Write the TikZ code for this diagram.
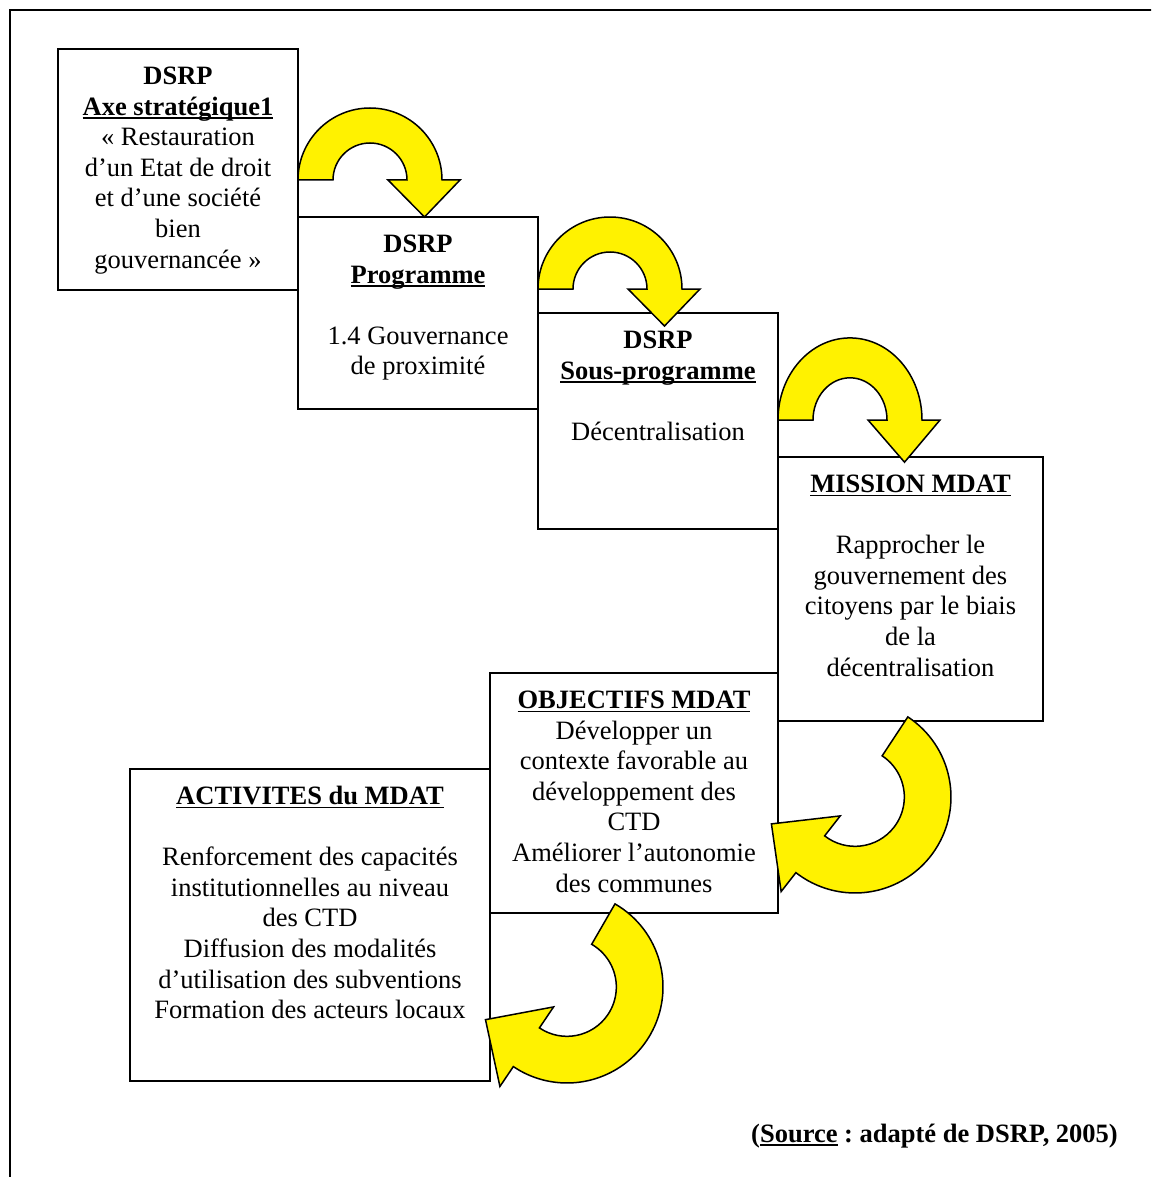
\documentclass[tikz,border=0pt]{standalone}
\usepackage{fontspec}
\setmainfont{Liberation Serif}
\frenchspacing
\newcommand\myul[1]{\setbox0\hbox{#1}\rlap{\rule[-4pt]{\wd0}{1.8pt}}\box0\relax}
\newcommand\fl{\rule{0pt}{22pt}}
\newcommand\bigarrow[6]{%
\begin{scope}[shift={(#1,-#2)}, yscale=#6, scale=#5, rotate=#3]
\draw[arrowfill] (#4:72) arc[start angle=#4, end angle=0, radius=72] -- (90,0) -- (54.5,-37) -- (18,0) -- (37,0) arc[start angle=0, end angle=#4, radius=37] -- cycle;
\end{scope}}
\begin{document}
\begin{tikzpicture}[x=1pt,y=1pt,
  box/.style={draw, line width=1.5pt, fill=white, inner sep=0, rectangle},
  txt/.style={align=center, inner sep=0, anchor=north, font=\fontsize{26.5}{30.6}\selectfont},
  arrowfill/.style={fill=yellow, draw=black, line width=1.5pt, line join=miter}]
\useasboundingbox (0,0) rectangle (1151,-1177);
\clip (0,0) rectangle (1151,-1177);
\fill[white] (0,0) rectangle (1151,-1177);
\draw[line width=2pt] (10,-10) rectangle (1175,-1200);

\node[box, minimum width=240pt, minimum height=241pt] (b1) at (178,-169.5) {};
\node[txt] (t1) at ([yshift=-14pt]b1.north) {\fl\textbf{DSRP}\\ \textbf{\myul{Axe stratégique1}}\\ « Restauration\\ d’un Etat de droit\\ et d’une société\\ bien\\ gouvernancée »};

\node[box, minimum width=240pt, minimum height=192pt] (b2) at (418,-313) {};
\node[txt] (t2) at ([yshift=-14pt]b2.north) {\fl\textbf{DSRP}\\ \textbf{\myul{Programme}}\\[30.6pt] 1.4 Gouvernance\\ de proximité};

\node[box, minimum width=240pt, minimum height=216pt] (b3) at (658,-421) {};
\node[txt] (t3) at ([yshift=-14pt]b3.north) {\fl\textbf{DSRP}\\ \textbf{\myul{Sous-programme}}\\[30.6pt] Décentralisation};

\node[box, minimum width=265pt, minimum height=264pt] (b4) at (910.5,-589) {};
\node[txt] (t4) at ([yshift=-14pt]b4.north) {\fl\textbf{\myul{MISSION MDAT}}\\[30.6pt] Rapprocher le\\ gouvernement des\\ citoyens par le biais\\ de la\\ décentralisation};

\node[box, minimum width=288pt, minimum height=240pt] (b5) at (634,-793) {};
\node[txt] (t5) at ([yshift=-14pt]b5.north) {\fl\textbf{\myul{OBJECTIFS MDAT}}\\ Développer un\\ contexte favorable au\\ développement des\\ CTD\\ Améliorer l’autonomie\\ des communes};

\node[box, minimum width=360pt, minimum height=312pt] (b6) at (310,-925) {};
\node[txt] (t6) at ([yshift=-14pt]b6.north) {\fl\textbf{\myul{ACTIVITES du MDAT}}\\[30.6pt] Renforcement des capacités\\ institutionnelles au niveau\\ des CTD\\ Diffusion des modalités\\ d’utilisation des subventions\\ Formation des acteurs locaux};

\bigarrow{370}{180}{0}{180}{1}{1}
\bigarrow{610}{289}{0}{180}{1}{1}
\bigarrow{850}{420}{0}{180}{1}{1.14}
\bigarrow{855}{797}{-128}{184.6}{1.333}{1}
\bigarrow{567}{987}{-124}{184}{1.333}{1}

\node[anchor=base east, inner sep=0, font=\fontsize{26.5}{30.6}\selectfont\bfseries] (src) at (1118,-1142) {(\myul{Source} : adapté de DSRP, 2005)};
\end{tikzpicture}
\end{document}
